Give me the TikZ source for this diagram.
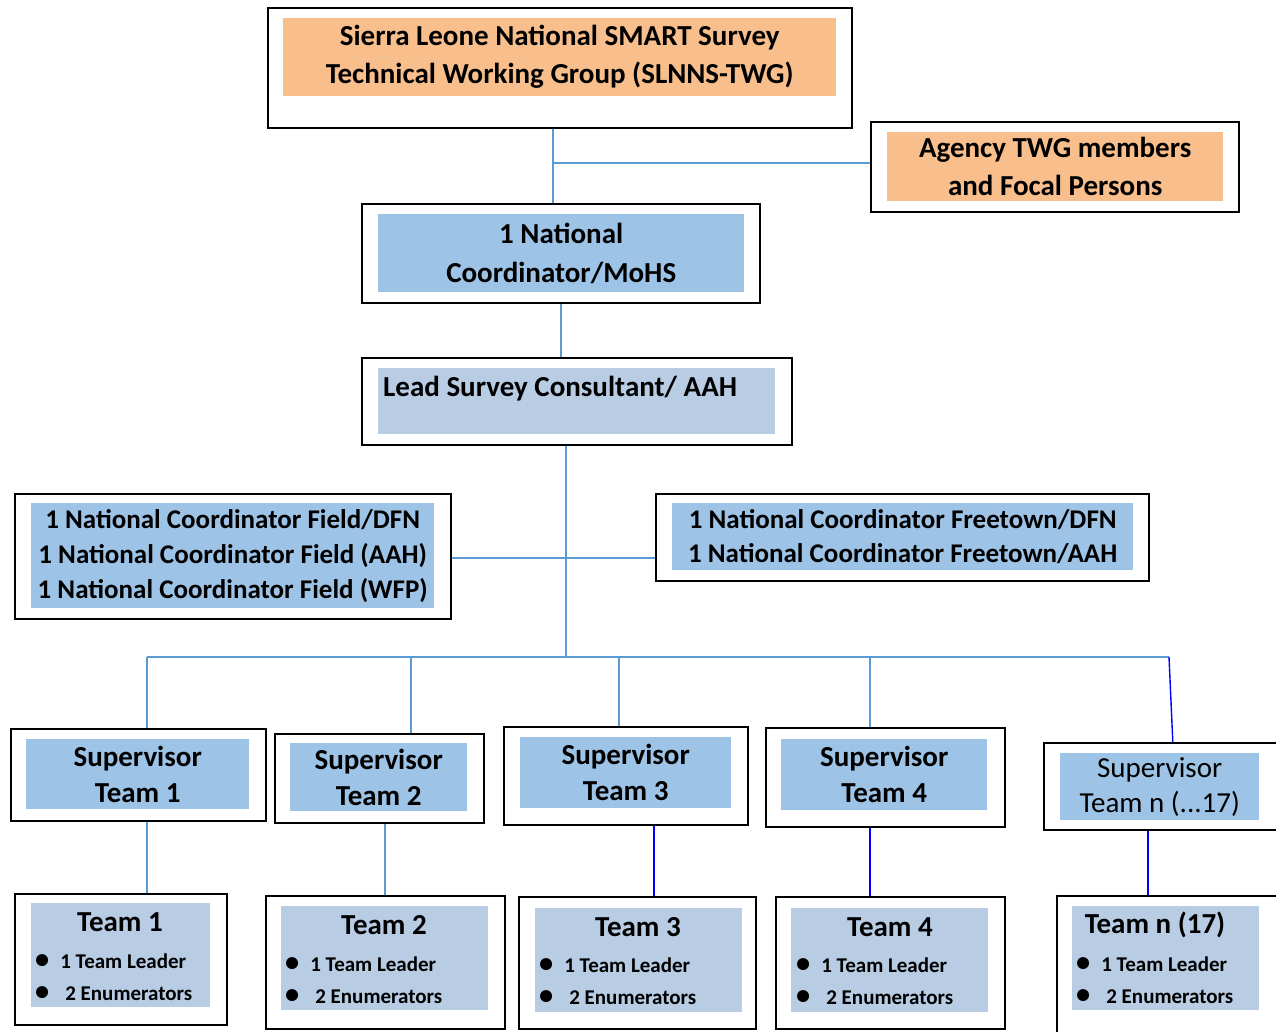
\documentclass[tikz,border=0pt]{standalone}
\usepackage{fontspec}
\setmainfont{Carlito}
\usepackage{tikz}
\definecolor{twgorange}{HTML}{F8BF8C}
\definecolor{panelblue}{HTML}{9DC3E6}
\definecolor{palesteel}{HTML}{B8CCE4}
\definecolor{linkblue}{HTML}{5B9BD5}
\newcommand{\teambullet}{\raisebox{-0.5pt}{\scalebox{1.35}{\textbullet}}}
\begin{document}
\begin{tikzpicture}[
  x=1pt, y=-1pt,
  frame/.style={
    draw,
    line width=1.6pt,
    anchor=north west,
    inner sep=0pt
  },
  panel/.style={
    anchor=north west,
    inner sep=0pt,
    align=center,
    font=\bfseries\fontsize{29}{38}\selectfont
  },
  teamname/.style={font=\bfseries\fontsize{29}{36}\selectfont, inner sep=0pt},
  teamlist/.style={anchor=west, inner sep=0pt, font=\bfseries\fontsize{21}{32}\selectfont},
  link/.style={draw=linkblue, line width=1.8pt},
  bluelink/.style={draw=blue, line width=1.4pt}
]
\fill[white] (0,0) rectangle (1276,1032);
\useasboundingbox (0,0) rectangle (1276,1032);
% top of the chart
\node[frame, minimum width=584, minimum height=120] (twg) at (267,7) {};
\node[panel, fill=twgorange, minimum width=553, minimum height=78] (twgbox) at (283,18)
  {Sierra Leone National SMART Survey\\Technical Working Group (SLNNS-TWG)};
\node[frame, minimum width=368, minimum height=90] (agency) at (870,121) {};
\node[panel, fill=twgorange, minimum width=336, minimum height=69] (agencybox) at (887,132)
  {Agency TWG members\\and Focal Persons};
\node[frame, minimum width=398, minimum height=99] (natcoord) at (361,203) {};
\node[panel, fill=panelblue, minimum width=366, minimum height=78,
  font=\bfseries\fontsize{29}{39}\selectfont] (natcoordbox) at (378,214)
  {1 National\\Coordinator/MoHS};
\node[frame, minimum width=430, minimum height=87] (lead) at (361,357) {};
\node[panel, fill=palesteel, minimum width=397, minimum height=66] (leadbox) at (378,368) {};
\node[panel, anchor=west] (leadtext) at (383,389) {Lead Survey Consultant/ AAH};
% national coordinators
\node[frame, minimum width=436, minimum height=125] (field) at (14,493) {};
\node[panel, fill=panelblue, minimum width=403, minimum height=105,
  font=\bfseries\fontsize{27}{35}\selectfont] (fieldbox) at (31,503)
  {1 National Coordinator Field/DFN\\1 National Coordinator Field (AAH)\\1 National Coordinator Field (WFP)};
\node[frame, minimum width=493, minimum height=87] (freetown) at (655,493) {};
\node[panel, fill=panelblue, minimum width=461, minimum height=67,
  font=\bfseries\fontsize{27}{34}\selectfont] (freetownbox) at (672,503)
  {1 National Coordinator Freetown/DFN\\1 National Coordinator Freetown/AAH};
% supervisors
\node[frame, minimum width=255, minimum height=92] (sup1) at (10,728) {};
\node[panel, fill=panelblue, minimum width=223, minimum height=70,
  font=\bfseries\fontsize{29}{36}\selectfont] (sup1box) at (26,739) {Supervisor\\Team 1};
\node[frame, minimum width=209, minimum height=89] (sup2) at (274,733) {};
\node[panel, fill=panelblue, minimum width=177, minimum height=68,
  font=\bfseries\fontsize{29}{36}\selectfont] (sup2box) at (290,743) {Supervisor\\Team 2};
\node[frame, minimum width=244, minimum height=98] (sup3) at (503,726) {};
\node[panel, fill=panelblue, minimum width=211, minimum height=71,
  font=\bfseries\fontsize{29}{36}\selectfont] (sup3box) at (520,737) {Supervisor\\Team 3};
\node[frame, minimum width=239, minimum height=99] (sup4) at (765,727) {};
\node[panel, fill=panelblue, minimum width=206, minimum height=71,
  font=\bfseries\fontsize{29}{36}\selectfont] (sup4box) at (781,739) {Supervisor\\Team 4};
\node[frame, minimum width=233, minimum height=87] (supn) at (1043,742) {};
\node[panel, fill=panelblue, minimum width=199, minimum height=67,
  font=\fontsize{29}{35}\selectfont] (supnbox) at (1060,753) {Supervisor\\Team n (...17)};
% teams
\node[frame, minimum width=212, minimum height=131] (team1) at (14,893) {};
\node[panel, fill=palesteel, minimum width=179, minimum height=104] (team1box) at (31,903) {};
\node[teamname] (team1name) at (120,922) {Team 1};
\node[teamlist] (team1list) at (35,978) {\begin{tabular}{@{}l@{\hspace{11pt}}l@{}}\teambullet&1 Team Leader\\\teambullet&\hspace{5pt}2 Enumerators\end{tabular}};
\node[frame, minimum width=239, minimum height=133] (team2) at (265,895) {};
\node[panel, fill=palesteel, minimum width=207, minimum height=104] (team2box) at (281,906) {};
\node[teamname] (team2name) at (384,925) {Team 2};
\node[teamlist] (team2list) at (285,981) {\begin{tabular}{@{}l@{\hspace{11pt}}l@{}}\teambullet&1 Team Leader\\\teambullet&\hspace{5pt}2 Enumerators\end{tabular}};
\node[frame, minimum width=237, minimum height=132] (team3) at (518,896) {};
\node[panel, fill=palesteel, minimum width=207, minimum height=104] (team3box) at (535,908) {};
\node[teamname] (team3name) at (638,927) {Team 3};
\node[teamlist] (team3list) at (539,982) {\begin{tabular}{@{}l@{\hspace{11pt}}l@{}}\teambullet&1 Team Leader\\\teambullet&\hspace{5pt}2 Enumerators\end{tabular}};
\node[frame, minimum width=229, minimum height=132] (team4) at (775,896) {};
\node[panel, fill=palesteel, minimum width=197, minimum height=104] (team4box) at (791,908) {};
\node[teamname] (team4name) at (890,927) {Team 4};
\node[teamlist] (team4list) at (796,982) {\begin{tabular}{@{}l@{\hspace{11pt}}l@{}}\teambullet&1 Team Leader\\\teambullet&\hspace{5pt}2 Enumerators\end{tabular}};
\node[frame, minimum width=220, minimum height=150] (teamn) at (1056,895) {};
\node[panel, fill=palesteel, minimum width=187, minimum height=104] (teamnbox) at (1072,906) {};
\node[teamname] (teamnname) at (1155,925) {Team n (17)};
\node[teamlist] (teamnlist) at (1076,981) {\begin{tabular}{@{}l@{\hspace{11pt}}l@{}}\teambullet&1 Team Leader\\\teambullet&\hspace{5pt}2 Enumerators\end{tabular}};
% connectors
\coordinate (twgjoin) at (553,163);
\coordinate (hub) at (566,657);
\coordinate (fieldjoin) at (566,558);
\coordinate (busleft) at (147,657);
\coordinate (busright) at (1169,657);
\coordinate (drop2) at (411,657);
\coordinate (drop3) at (619,657);
\coordinate (drop4) at (870,657);
\coordinate (sub2) at (385,860);
\coordinate (sub3) at (654,860);
\coordinate (sub4) at (870,860);
\coordinate (subn) at (1148,860);
\draw[link] (twgjoin |- twg.south) -- (twgjoin |- natcoord.north);
\draw[link] (twgjoin) -- (twgjoin -| agency.west);
\draw[link] (natcoord.south) -- (natcoord.south |- lead.north);
\draw[link] (hub |- lead.south) -- (hub);
\draw[link] (fieldjoin -| field.east) -- (fieldjoin -| freetown.west);
\draw[link] (busleft) -- (busright);
\draw[link] (busleft) -- (busleft |- sup1.north);
\draw[link] (drop2) -- (drop2 |- sup2.north);
\draw[link] (drop3) -- (drop3 |- sup3.north);
\draw[link] (drop4) -- (drop4 |- sup4.north);
\draw[bluelink] (busright) -- ([xshift=12.5pt]supn.north);
\draw[link] (busleft |- sup1.south) -- (busleft |- team1.north);
\draw[link] (sub2 |- sup2.south) -- (sub2 |- team2.north);
\draw[bluelink] (sub3 |- sup3.south) -- (sub3 |- team3.north);
\draw[bluelink] (sub4 |- sup4.south) -- (sub4 |- team4.north);
\draw[bluelink] (subn |- supn.south) -- (subn |- teamn.north);
\end{tikzpicture}
\end{document}
